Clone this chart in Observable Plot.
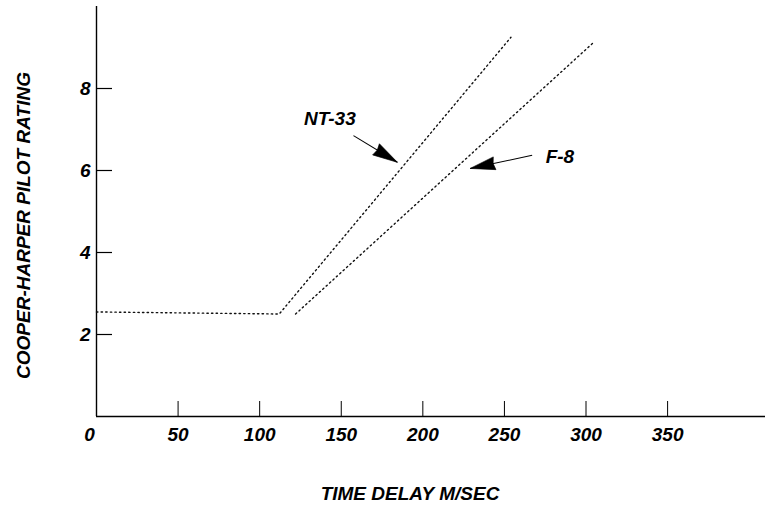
<!DOCTYPE html>
<html>
<head>
<meta charset="utf-8">
<script src="https://cdn.jsdelivr.net/npm/d3@7"></script>
<script src="https://cdn.jsdelivr.net/npm/@observablehq/plot@0.6"></script>
<style>
  html, body { margin: 0; padding: 0; background: #fff; }
</style>
</head>
<body>
<div id="chart"></div>
<script>
// Pilot rating vs. time delay for two aircraft (piecewise-linear trends)
const nt33Delay  = [0, 112, 254];
const nt33Rating = [2.55, 2.5, 9.25];
const f8Delay    = [122, 304];
const f8Rating   = [2.5, 9.1];

const xTicks = [0, 50, 100, 150, 200, 250, 300, 350];
const yTicks = [2, 4, 6, 8];

// Callout labels and arrows (tail -> tip) in data units
const calloutNames = ["NT-33", "F-8"];
const calloutLabelX = [143, 284];
const calloutLabelY = [7.27, 6.32];
const arrowTailX = [157.5, 267];
const arrowTailY = [6.85, 6.37];
const arrowTipX  = [184.4, 229];
const arrowTipY  = [6.2, 6.05];

// Layout
const W = 765, H = 511;
const margin = {left: 96, right: 0, top: 6, bottom: 95};
const xDomain = [0, 410];
const yDomain = [0, 10];
const pxPerX = (W - margin.left - margin.right) / (xDomain[1] - xDomain[0]);
const pxPerY = (H - margin.top - margin.bottom) / (yDomain[1] - yDomain[0]);

const series = [
  ...nt33Delay.map((d, i) => ({aircraft: "NT-33", delay: d, rating: nt33Rating[i]})),
  ...f8Delay.map((d, i) => ({aircraft: "F-8", delay: d, rating: f8Rating[i]}))
];
const callouts = calloutNames.map((name, i) => {
  const sx = (arrowTipX[i] - arrowTailX[i]) * pxPerX;
  const sy = -(arrowTipY[i] - arrowTailY[i]) * pxPerY;
  return {
    name, lx: calloutLabelX[i], ly: calloutLabelY[i],
    x1: arrowTailX[i], y1: arrowTailY[i], x2: arrowTipX[i], y2: arrowTipY[i],
    angle: Math.atan2(sy, sx) * 180 / Math.PI
  };
});

// Solid, elongated arrowhead pointing along +x with its tip at the origin
const arrowHead = {
  draw(context) {
    const len = 25, half = 6.5;
    context.moveTo(0, 0);
    context.lineTo(-len, -half);
    context.lineTo(-len * 0.94, 0);
    context.lineTo(-len, half);
    context.closePath();
  }
};

const font = "'Liberation Sans', Arial, Helvetica, sans-serif";

const chart = Plot.plot({
  width: W,
  height: H,
  marginLeft: margin.left,
  marginRight: margin.right,
  marginTop: margin.top,
  marginBottom: margin.bottom,
  style: {fontFamily: font, fontSize: "19px", fontWeight: "bold", fontStyle: "italic", color: "#000", background: "#fff"},
  x: {domain: xDomain, label: null},
  y: {domain: yDomain, label: null},
  marks: [
    Plot.axisX({ticks: xTicks.filter(t => t > 0), tickSize: -15, tickPadding: 26, tickFormat: d => String(d), strokeWidth: 1}),
    Plot.axisX({ticks: [0], tickSize: 0, tickPadding: 11, dx: -7, tickFormat: d => String(d)}),
    Plot.axisY({ticks: yTicks, tickSize: -16, tickPadding: 22, tickFormat: d => String(d), strokeWidth: 1.2}),
    Plot.ruleX([0], {stroke: "#000", strokeWidth: 1.4}),
    Plot.ruleY([0], {stroke: "#000", strokeWidth: 1.4}),
    Plot.line(series, {
      x: "delay", y: "rating", z: "aircraft",
      stroke: "#111", strokeWidth: 1.4, strokeDasharray: "1.4,3.2"
    }),
    Plot.link(callouts, {
      x1: "x1", y1: "y1", x2: "x2", y2: "y2",
      stroke: "#000", strokeWidth: 1.1
    }),
    Plot.dot(callouts, {
      x: "x2", y: "y2", r: 1, symbol: arrowHead, rotate: "angle",
      fill: "#000", stroke: "#000", strokeWidth: 0.6
    }),
    Plot.text(callouts, {
      x: "lx", y: "ly", text: "name",
      fontSize: 19, fontWeight: "bold", fontStyle: "italic", fill: "#000"
    }),
    Plot.text(["TIME DELAY M/SEC"], {
      frameAnchor: "bottom", dx: -21, dy: 77, lineAnchor: "middle", textAnchor: "middle",
      fontSize: 19, fontWeight: "bold", fontStyle: "italic", fill: "#000"
    }),
    Plot.text(["COOPER-HARPER PILOT RATING"], {
      frameAnchor: "left", dx: -73, dy: 14, rotate: -90, lineAnchor: "middle", textAnchor: "middle",
      fontSize: 19, fontWeight: "bold", fontStyle: "italic", fill: "#000"
    })
  ]
});

document.getElementById("chart").appendChild(chart);
</script>
</body>
</html>
